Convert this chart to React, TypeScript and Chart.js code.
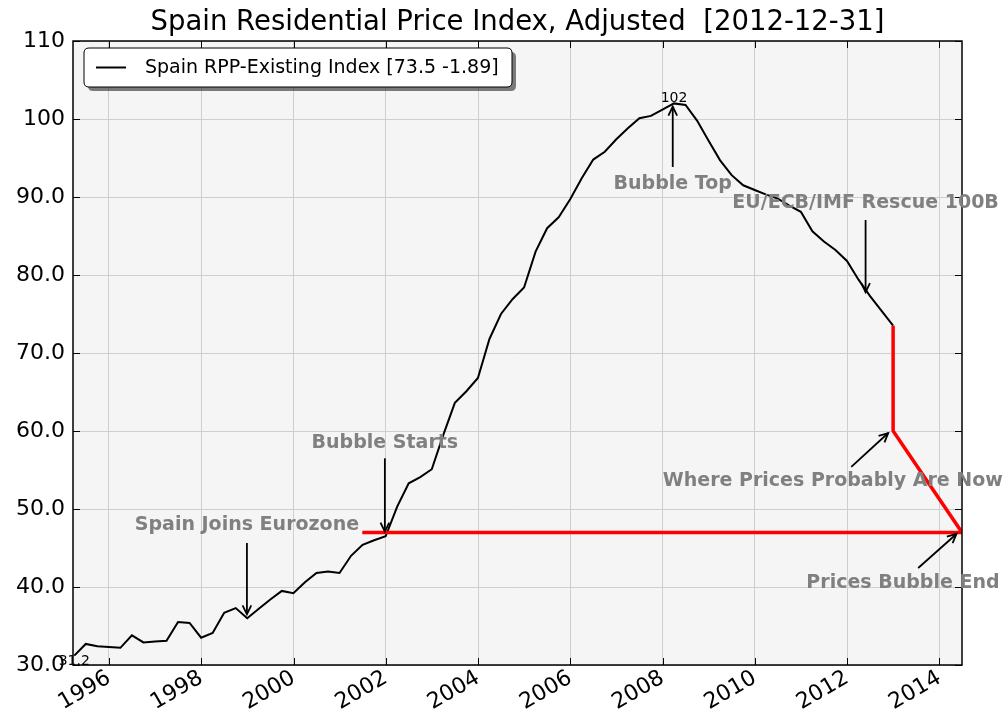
import React, { useEffect, useRef } from 'react';
import { Chart, registerables } from 'chart.js';

Chart.register(...registerables);

// ---- data ----
const years = [1995, 1996, 1997, 1998, 1999, 2000, 2001, 2002, 2003, 2004, 2005, 2006, 2007, 2008, 2009, 2010, 2011, 2012];
const rppValues = [
  31.2, 32.7, 32.4, 32.3,
  32.2, 33.8, 32.9, 33.0,
  33.1, 35.5, 35.4, 33.5,
  34.1, 36.7, 37.3, 36.0,
  37.2, 38.4, 39.5, 39.2,
  40.6, 41.8, 42.0, 41.8,
  44.0, 45.4, 46.0, 46.5,
  50.3, 53.3, 54.1, 55.1,
  59.5, 63.6, 65.1, 66.8,
  71.8, 75.0, 76.9, 78.4,
  83.0, 86.0, 87.4, 89.7,
  92.4, 94.8, 95.8, 97.4,
  98.8, 100.1, 100.4, 101.2,
  102.0, 101.8, 99.8, 97.2,
  94.7, 92.8, 91.5, 90.9,
  90.3, 89.8, 88.9, 88.1,
  85.6, 84.3, 83.2, 81.8,
  79.4, 77.3, 75.4, 73.5,
];
// red "bubble floor" line and projected drop
const floorX = [2001.49, 2014.49];
const floorY = [47, 47];
const dropX = [2012.997, 2012.997, 2014.49];
const dropY = [73.5, 60, 47];

const xTickValues = [1996, 1998, 2000, 2002, 2004, 2006, 2008, 2010, 2012, 2014];
const xTickLabels = ['1996', '1998', '2000', '2002', '2004', '2006', '2008', '2010', '2012', '2014'];
const yTickValues = [30, 40, 50, 60, 70, 80, 90, 100, 110];
const yTickLabels = ['30.0', '40.0', '50.0', '60.0', '70.0', '80.0', '90.0', '100', '110'];

const titleText = 'Spain Residential Price Index, Adjusted  [2012-12-31]';
const legendText = 'Spain RPP-Existing Index [73.5 -1.89]';
const peakLabel = '102';
const startLabel = '31.2';

const noteTexts = ['Spain Joins Eurozone', 'Bubble Starts', 'Bubble Top', 'EU/ECB/IMF Rescue 100B', 'Where Prices Probably Are Now', 'Prices Bubble End'];
const noteTextX = [1998.99, 2001.98, 2008.22, 2012.40, 2011.69, 2013.21];
const noteTextY = [47.95, 58.46, 91.67, 89.2, 53.6, 40.5];
const noteTailX = [1998.99, 2001.98, 2008.22, 2012.40, 2012.09, 2013.54];
const noteTailY = [45.64, 56.5, 93.85, 87.05, 55.4, 42.44];
const noteTipX = [1998.99, 2001.98, 2008.22, 2012.40, 2012.89, 2014.37];
const noteTipY = [36.5, 47.1, 101.6, 77.8, 59.74, 46.8];

const X_MIN = 1995.22;
const X_MAX = 2014.49;
const FONT = '"DejaVu Sans", sans-serif';

function drawArrow(ctx: CanvasRenderingContext2D, x0: number, y0: number, x1: number, y1: number) {
  ctx.save();
  ctx.strokeStyle = '#000';
  ctx.lineWidth = 1.8;
  ctx.beginPath();
  ctx.moveTo(x0, y0);
  ctx.lineTo(x1, y1);
  ctx.stroke();
  const ang = Math.atan2(y1 - y0, x1 - x0);
  const len = 10;
  const spread = 0.45;
  ctx.beginPath();
  ctx.moveTo(x1 - len * Math.cos(ang - spread), y1 - len * Math.sin(ang - spread));
  ctx.lineTo(x1, y1);
  ctx.lineTo(x1 - len * Math.cos(ang + spread), y1 - len * Math.sin(ang + spread));
  ctx.stroke();
  ctx.restore();
}

function roundRect(ctx: CanvasRenderingContext2D, x: number, y: number, w: number, h: number, r: number) {
  ctx.beginPath();
  ctx.moveTo(x + r, y);
  ctx.lineTo(x + w - r, y);
  ctx.quadraticCurveTo(x + w, y, x + w, y + r);
  ctx.lineTo(x + w, y + h - r);
  ctx.quadraticCurveTo(x + w, y + h, x + w - r, y + h);
  ctx.lineTo(x + r, y + h);
  ctx.quadraticCurveTo(x, y + h, x, y + h - r);
  ctx.lineTo(x, y + r);
  ctx.quadraticCurveTo(x, y, x + r, y);
  ctx.closePath();
}

function quarterX(): number[] {
  const out: number[] = [];
  years.forEach((y) => {
    for (let q = 0; q < 4; q++) out.push(y + (q + 1) * 0.25 - 0.003);
  });
  return out;
}

const decorPlugin = {
  id: 'decor',
  beforeDraw(chart: any) {
    const { ctx, chartArea: a } = chart;
    ctx.save();
    ctx.fillStyle = '#ffffff';
    ctx.fillRect(0, 0, chart.width, chart.height);
    ctx.fillStyle = '#f5f5f5';
    ctx.fillRect(a.left, a.top, a.right - a.left, a.bottom - a.top);
    ctx.restore();
  },
  afterDraw(chart: any) {
    const { ctx, chartArea: a } = chart;
    const xs = chart.scales.x;
    const ys = chart.scales.y;
    ctx.save();
    // inward ticks
    ctx.strokeStyle = '#000';
    ctx.lineWidth = 1;
    const tl = 7;
    xTickValues.forEach((v) => {
      const px = Math.round(xs.getPixelForValue(v)) + 0.5;
      ctx.beginPath();
      ctx.moveTo(px, a.bottom);
      ctx.lineTo(px, a.bottom - tl);
      ctx.moveTo(px, a.top);
      ctx.lineTo(px, a.top + tl);
      ctx.stroke();
    });
    yTickValues.forEach((v) => {
      const py = Math.round(ys.getPixelForValue(v)) + 0.5;
      ctx.beginPath();
      ctx.moveTo(a.left, py);
      ctx.lineTo(a.left + tl, py);
      ctx.moveTo(a.right, py);
      ctx.lineTo(a.right - tl, py);
      ctx.stroke();
    });
    // border
    ctx.lineWidth = 1.5;
    ctx.strokeRect(a.left, a.top, a.right - a.left, a.bottom - a.top);

    // point labels
    ctx.fillStyle = '#000';
    ctx.font = `14px ${FONT}`;
    ctx.textAlign = 'center';
    ctx.textBaseline = 'alphabetic';
    const peakIdx = rppValues.indexOf(Math.max(...rppValues));
    const xsVals = quarterX();
    ctx.fillText(peakLabel, xs.getPixelForValue(xsVals[peakIdx]), ys.getPixelForValue(rppValues[peakIdx]) - 1);
    ctx.fillText(startLabel, xs.getPixelForValue(xsVals[0]), ys.getPixelForValue(30));

    // annotations
    ctx.font = `bold 19px ${FONT}`;
    ctx.fillStyle = '#808080';
    ctx.textBaseline = 'middle';
    noteTexts.forEach((t, i) => {
      ctx.fillText(t, xs.getPixelForValue(noteTextX[i]), ys.getPixelForValue(noteTextY[i]));
      drawArrow(
        ctx,
        xs.getPixelForValue(noteTailX[i]), ys.getPixelForValue(noteTailY[i]),
        xs.getPixelForValue(noteTipX[i]), ys.getPixelForValue(noteTipY[i])
      );
    });

    // legend
    const lx = 84, ly = 48, lw = 428, lh = 39;
    ctx.fillStyle = 'rgba(0,0,0,0.5)';
    roundRect(ctx, lx + 4, ly + 4, lw, lh, 5);
    ctx.fill();
    ctx.fillStyle = '#ffffff';
    roundRect(ctx, lx, ly, lw, lh, 5);
    ctx.fill();
    ctx.strokeStyle = '#000';
    ctx.lineWidth = 1;
    ctx.stroke();
    ctx.beginPath();
    ctx.lineWidth = 2;
    ctx.moveTo(lx + 12, ly + lh / 2);
    ctx.lineTo(lx + 42, ly + lh / 2);
    ctx.stroke();
    ctx.fillStyle = '#000';
    ctx.font = `19px ${FONT}`;
    ctx.textAlign = 'left';
    ctx.textBaseline = 'middle';
    ctx.fillText(legendText, lx + 61, ly + lh / 2 + 1);

    // title
    ctx.font = `27.5px ${FONT}`;
    ctx.textAlign = 'center';
    ctx.textBaseline = 'alphabetic';
    ctx.fillText(titleText, (a.left + a.right) / 2, 30);
    ctx.restore();
  },
};

export default function App() {
  const ref = useRef<HTMLCanvasElement | null>(null);
  useEffect(() => {
    if (!ref.current) return;
    const qx = quarterX();
    const mainPts = rppValues.map((v, i) => ({ x: qx[i], y: v }));
    const floorPts = floorX.map((x, i) => ({ x, y: floorY[i] }));
    const dropPts = dropX.map((x, i) => ({ x, y: dropY[i] }));
    const tickFont = { family: FONT, size: 22 };
    const chart = new Chart(ref.current, {
      type: 'line',
      data: {
        datasets: [
          { label: legendText, data: mainPts, borderColor: '#000', borderWidth: 2, pointRadius: 0, tension: 0, order: 2, fill: false },
          { label: 'floor', data: floorPts, borderColor: '#ff0000', borderWidth: 3.5, pointRadius: 0, order: 1, fill: false },
          { label: 'drop', data: dropPts, borderColor: '#ff0000', borderWidth: 3.5, pointRadius: 0, order: 0, fill: false },
        ],
      },
      options: {
        animation: false,
        responsive: false,
        maintainAspectRatio: false,
        layout: { padding: { top: 41, right: 46, left: 0, bottom: 0 } },
        plugins: { legend: { display: false }, title: { display: false }, tooltip: { enabled: false } },
        scales: {
          x: {
            type: 'linear',
            min: X_MIN,
            max: X_MAX,
            afterBuildTicks: (s: any) => { s.ticks = xTickValues.map((v) => ({ value: v })); },
            afterFit: (s: any) => { s.height = 51; },
            ticks: {
              autoSkip: false,
              minRotation: 30,
              maxRotation: 30,
              padding: 0,
              color: '#000',
              font: tickFont,
              callback: (v: any) => xTickLabels[xTickValues.indexOf(Number(v))] ?? '',
            },
            grid: { color: '#cfcfcf', lineWidth: 1, drawTicks: false },
            border: { display: false },
          },
          y: {
            type: 'linear',
            min: 30,
            max: 110,
            afterBuildTicks: (s: any) => { s.ticks = yTickValues.map((v) => ({ value: v })); },
            afterFit: (s: any) => { s.width = 73; },
            ticks: {
              padding: 8,
              color: '#000',
              font: tickFont,
              callback: (v: any) => yTickLabels[yTickValues.indexOf(Number(v))] ?? '',
            },
            grid: { color: '#cfcfcf', lineWidth: 1, drawTicks: false },
            border: { display: false },
          },
        },
      },
      plugins: [decorPlugin],
    } as any);
    return () => chart.destroy();
  }, []);
  return (
    <div style={{ position: 'fixed', left: 0, top: 0, width: 1008, height: 716, background: '#fff' }}>
      <canvas ref={ref} width={1008} height={716} style={{ display: 'block', width: 1008, height: 716 }} />
    </div>
  );
}
